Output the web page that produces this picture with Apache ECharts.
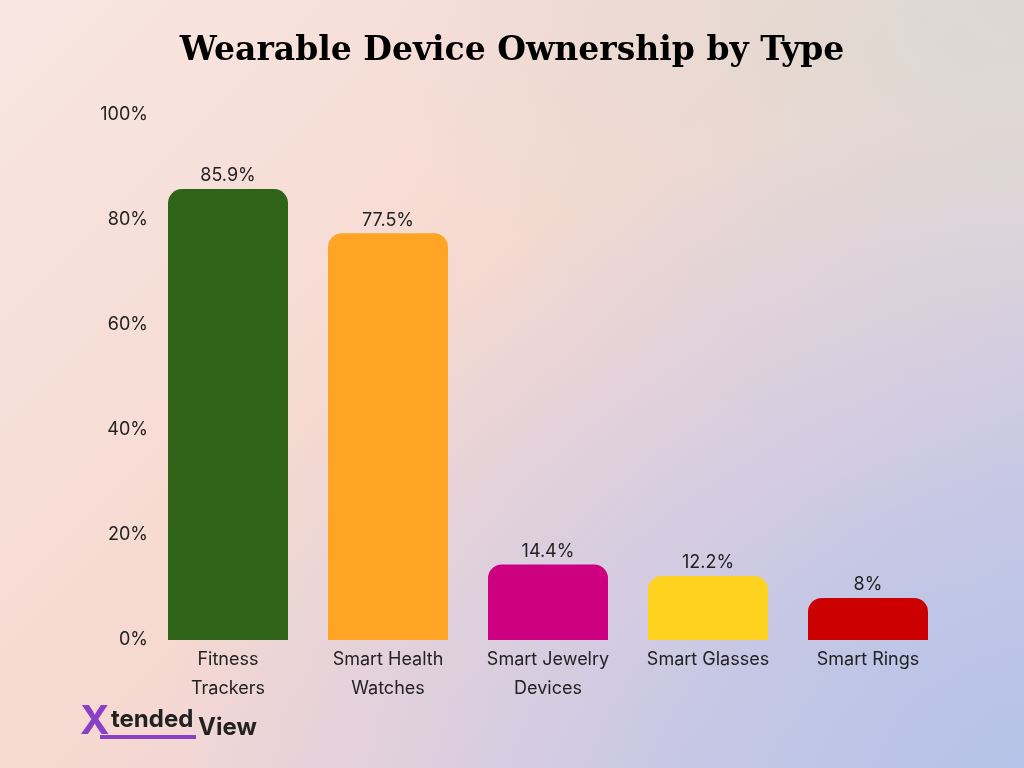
<!DOCTYPE html>
<html lang="en">
<head>
<meta charset="UTF-8">
<title>Wearable Device Ownership by Type</title>
<script src="https://cdn.jsdelivr.net/npm/echarts@6/dist/echarts.min.js"></script>
<style>
  html, body { margin: 0; padding: 0; }
  body {
    width: 1024px; height: 768px; overflow: hidden;
    background:
      radial-gradient(ellipse at 100% 100%, #b7c3e8 0%, rgba(183,195,232,0) 60%),
      radial-gradient(ellipse at 100% 0%, #dcd9d2 0%, rgba(220,217,210,0) 45%),
      linear-gradient(135deg, #f8e6e2 0%, #f6d9d0 45%, #eed3dc 70%, #c6c9e6 100%);
  }
</style>
</head>
<body>
<div id="chart" style="width:1024px;height:768px"></div>
<script>
var categories = ['Fitness\nTrackers', 'Smart Health\nWatches', 'Smart Jewelry\nDevices', 'Smart Glasses', 'Smart Rings'];
var values = [85.9, 77.5, 14.4, 12.2, 8];
var labels = ['85.9%', '77.5%', '14.4%', '12.2%', '8%'];
var colors = ['#2f6318', '#ffa424', '#cc0080', '#ffd21f', '#cc0000'];

var chart = echarts.init(document.getElementById('chart'));
var option = {
  backgroundColor: 'transparent',
  title: {
    text: 'Wearable Device Ownership by Type',
    left: 'center', top: 30,
    textStyle: { fontFamily: 'DejaVu Serif', fontWeight: 'bold', fontSize: 33, color: '#000' }
  },
  grid: { left: 148, right: 76, top: 115, bottom: 128 },
  xAxis: {
    type: 'category',
    data: categories,
    axisLine: { show: false },
    axisTick: { show: false },
    axisLabel: { color: '#222', fontSize: 18, fontFamily: 'Inter', lineHeight: 29, margin: 5 }
  },
  yAxis: {
    type: 'value', min: 0, max: 100, interval: 20,
    splitLine: { show: false },
    axisLabel: { formatter: '{value}%', color: '#222', fontSize: 18, fontFamily: 'Inter', margin: 0 }
  },
  series: [{
    type: 'bar',
    barWidth: 120,
    data: values.map(function (v, i) {
      return { value: v, itemStyle: { color: colors[i] } };
    }),
    itemStyle: { borderRadius: [14, 14, 0, 0] },
    label: {
      show: true, position: 'top', distance: 4,
      color: '#222', fontSize: 18, fontFamily: 'Inter',
      formatter: function (p) { return labels[p.dataIndex]; }
    }
  }],
  graphic: [
    { type: 'text', left: 80, top: 702, style: { text: 'X', fontSize: 40, fontWeight: 'bold', fontFamily: 'Inter', fill: '#8a3fc4' } },
    { type: 'text', left: 111, top: 708, style: { text: 'tended', fontSize: 24, fontWeight: 'bold', fontFamily: 'Inter', fill: '#222' } },
    { type: 'text', left: 198, top: 716, style: { text: 'View', fontSize: 24, fontWeight: 'bold', fontFamily: 'Inter', fill: '#222' } },
    { type: 'rect', shape: { x: 100, y: 735, width: 96, height: 4 }, style: { fill: '#8a3fc4' } }
  ]
};
chart.setOption(option);
</script>
</body>
</html>
